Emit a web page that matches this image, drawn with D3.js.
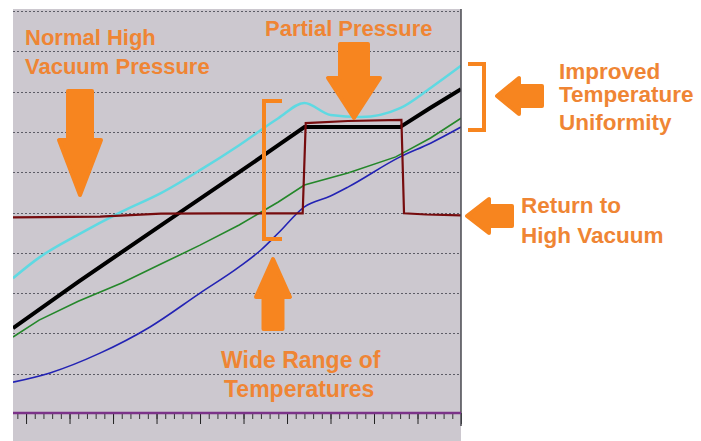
<!DOCTYPE html>
<html>
<head>
<meta charset="utf-8">
<script src="https://d3js.org/d3.v7.min.js"></script>
<style>
  body { margin: 0; background: #fff; }
  text { font-family: "Liberation Sans", Arial, sans-serif; font-weight: bold; }
</style>
</head>
<body>
<div id="chart"></div>
<script>
// readings, time index vs. grid units
let cyanT  = [-3, 3, 12, 22, 31, 40, 49, 58, 64, 70, 77, 86, 93, 100];
let cyanV  = [3.37, 3.88, 4.45, 5.02, 5.48, 6.05, 6.67, 7.34, 7.72, 7.42, 7.37, 7.59, 8.09, 8.64];

let blackT = [-3, 12, 31, 49, 58, 64, 86, 93, 100];
let blackV = [2.13, 3.28, 4.68, 6.0, 6.67, 7.12, 7.12, 7.6, 8.06];

let greenT = [-3, 3, 12, 22, 31, 40, 49, 58, 64, 74, 85, 93, 100];
let greenV = [1.91, 2.33, 2.80, 3.25, 3.72, 4.19, 4.69, 5.26, 5.68, 5.98, 6.38, 6.85, 7.34];

let blueT  = [-3, 5.5, 17, 28.5, 40, 49, 54, 58, 64, 70, 74, 86, 93, 100];
let blueV  = [0.79, 1.02, 1.51, 2.16, 3.0, 3.65, 4.07, 4.49, 5.14, 5.41, 5.63, 6.38, 6.72, 7.12];

let pressT = [-3, 17, 31, 45, 63.6, 64.3, 74, 86.3, 86.9, 92, 100];
let pressV = [4.88, 4.9, 4.97, 4.98, 4.98, 7.22, 7.27, 7.3, 4.98, 4.95, 4.93];

let gridLevels = [1, 2, 3, 4, 5, 6, 7, 8, 9, 10];
let minorTicks = d3.range(-2, 101, 2);
let majorTicks = d3.range(0, 101, 10);

const width = 701;
const height = 441;
const plot = {left: 13, right: 461, top: 9, bottom: 441, axis: 413};
const orange = "#f7851f";
const textOrange = "#ef8534";

const svg = d3.select('#chart')
              .append("svg")
              .attr('width', width)
              .attr('height', height);

let xScale = d3.scaleLinear().domain([-3, 100]).range([plot.left, plot.right]);
let yScale = d3.scaleLinear().domain([0, 10]).range([414, 11]);

svg.append("rect")
    .attr("x", plot.left)
    .attr("y", plot.top)
    .attr("width", plot.right - plot.left)
    .attr("height", plot.bottom - plot.top)
    .attr("fill", "#ccc8cf");

svg.append("clipPath").attr("id", "clip")
  .append("rect")
    .attr("x", plot.left)
    .attr("y", plot.top)
    .attr("width", plot.right - plot.left)
    .attr("height", plot.axis - plot.top);

svg.append("g")
    .attr("stroke", "#5c5c66")
    .attr("stroke-width", 1)
    .attr("stroke-dasharray", "2,2")
  .selectAll("line")
  .data(gridLevels)
  .join("line")
    .attr("x1", plot.left)
    .attr("x2", plot.right - 1)
    .attr("y1", d => Math.round(yScale(d)) + 0.5)
    .attr("y2", d => Math.round(yScale(d)) + 0.5);

function zip(ts, vs) {
  return ts.map((t, i) => [t, vs[i]]);
}

let line = d3.line()
    .x(d => xScale(d[0]))
    .y(d => yScale(d[1]));

let smooth = d3.line()
    .curve(d3.curveMonotoneX)
    .x(d => xScale(d[0]))
    .y(d => yScale(d[1]));

let traces = svg.append("g").attr("clip-path", "url(#clip)").attr("fill", "none");

traces.append("path")
    .attr("d", smooth(zip(cyanT, cyanV)))
    .attr("stroke", "#5fd9e2")
    .attr("stroke-width", 2.5);

traces.append("path")
    .attr("d", smooth(zip(blueT, blueV)))
    .attr("stroke", "#2323b4")
    .attr("stroke-width", 1.6);

traces.append("path")
    .attr("d", line(zip(greenT, greenV)))
    .attr("stroke", "#24872a")
    .attr("stroke-width", 1.6);

traces.append("path")
    .attr("d", line(zip(blackT, blackV)))
    .attr("stroke", "#000")
    .attr("stroke-width", 4);

traces.append("path")
    .attr("d", line(zip(pressT, pressV)))
    .attr("stroke", "#760c0e")
    .attr("stroke-width", 2.2);

// bottom axis: minor + major ticks, purple base line
svg.append("g")
    .attr("transform", "translate(0," + plot.axis + ")")
    .call(d3.axisBottom(xScale).tickValues(minorTicks).tickSize(6).tickFormat(""))
    .call(g => g.select(".domain").remove())
    .call(g => g.selectAll("line").attr("stroke", "#333"));

svg.append("g")
    .attr("transform", "translate(0," + plot.axis + ")")
    .call(d3.axisBottom(xScale).tickValues(majorTicks).tickSize(11).tickFormat(""))
    .call(g => g.select(".domain").remove())
    .call(g => g.selectAll("line").attr("stroke", "#222"));

svg.append("line")
    .attr("x1", plot.right).attr("x2", plot.right)
    .attr("y1", plot.top).attr("y2", plot.axis + 13)
    .attr("stroke", "#4a4a50")
    .attr("stroke-width", 1.5);

svg.append("line")
    .attr("x1", plot.left).attr("x2", plot.right)
    .attr("y1", plot.axis).attr("y2", plot.axis)
    .attr("stroke", "#7b3289")
    .attr("stroke-width", 2.5);

// annotation arrows: tip point, direction, length, head length, head/shaft half widths
function arrow(tx, ty, dir, len, headLen, headHalf, shaftHalf) {
  let pts = [[0, 0], [headLen, -headHalf], [headLen, -shaftHalf], [len, -shaftHalf],
             [len, shaftHalf], [headLen, shaftHalf], [headLen, headHalf]];
  let rot = {left: 0, up: 90, right: 180, down: 270}[dir];
  svg.append("path")
      .attr("d", "M" + pts.map(p => p.join(",")).join("L") + "Z")
      .attr("transform", "translate(" + tx + "," + ty + ") rotate(" + rot + ")")
      .attr("fill", orange)
      .attr("stroke", orange)
      .attr("stroke-width", 4)
      .attr("stroke-linejoin", "round");
}

arrow(80, 195, "down", 104, 55, 21, 12);
arrow(354, 118, "down", 74, 40, 26, 14);
arrow(497, 96, "left", 45, 22, 18, 10);
arrow(467, 216, "left", 45, 22, 17, 10);
arrow(273, 259, "up", 70, 38, 17, 9.5);

svg.append("path")
    .attr("d", "M282,101H264V239H282")
    .attr("fill", "none")
    .attr("stroke", orange)
    .attr("stroke-width", 4);

svg.append("path")
    .attr("d", "M468,64H484V130H468")
    .attr("fill", "none")
    .attr("stroke", orange)
    .attr("stroke-width", 4);

let notes = [
  {x: 25,  y: 45,  s: 22, t: "Normal High"},
  {x: 25,  y: 74,  s: 22, t: "Vacuum Pressure"},
  {x: 265, y: 36,  s: 22, t: "Partial Pressure"},
  {x: 559, y: 79,  s: 22.5, t: "Improved"},
  {x: 559, y: 102, s: 22.5, t: "Temperature"},
  {x: 559, y: 130, s: 22.5, t: "Uniformity"},
  {x: 521, y: 213, s: 22.5, t: "Return to"},
  {x: 521, y: 243, s: 22.5, t: "High Vacuum"},
  {x: 221, y: 368, s: 23, t: "Wide Range of"},
  {x: 224, y: 397, s: 23, t: "Temperatures"}
];

svg.append("g")
  .selectAll("text")
  .data(notes)
  .join("text")
    .attr("x", d => d.x)
    .attr("y", d => d.y)
    .attr("fill", textOrange)
    .attr("font-size", d => d.s)
    .text(d => d.t);
</script>
</body>
</html>
